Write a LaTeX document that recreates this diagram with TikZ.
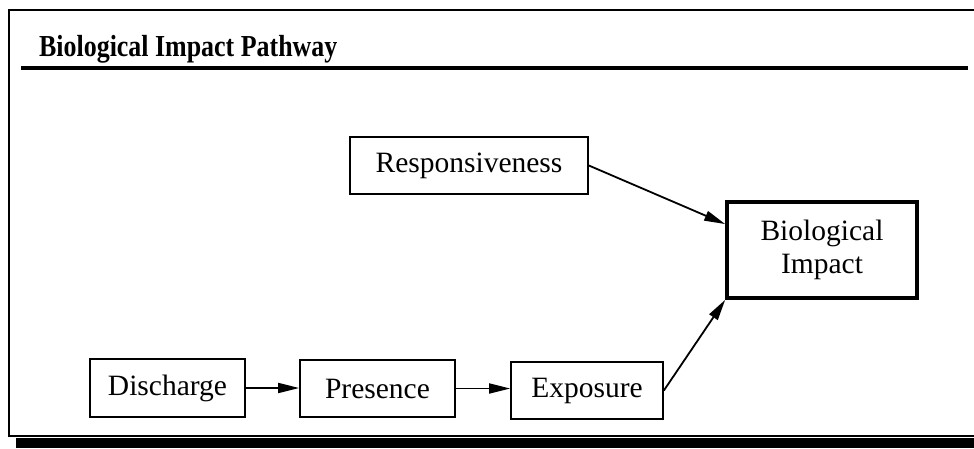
\documentclass[tikz,border=0pt]{standalone}
\usepackage{fontspec}
\setmainfont{Liberation Serif}
\usetikzlibrary{arrows.meta}
\begin{document}
\begin{tikzpicture}[x=1pt,y=-1pt,
  stage/.style={draw,line width=1.7pt,minimum height=57pt,inner sep=0pt,
    font=\fontsize{29.5}{33}\selectfont},
  goal/.style={stage,line width=3.6pt,align=center},
  flow/.style={line width=1.8pt,-{Triangle[length=21pt,width=10pt]}}]
  \useasboundingbox (0,0) rectangle (974,448);
  % frame with drop shadow along the bottom
  \draw[line width=1.8pt] (974,10) -- (9,10) -- (9,436) -- (974,436);
  \fill (16,438) rectangle (974,448);
  % heading and its rule
  \node[anchor=base west,inner sep=0pt,xscale=0.85,
    font=\fontsize{30.5}{32}\bfseries\selectfont] (title) at (39,56)
    {Biological Impact Pathway};
  \draw[line width=3.2pt] (21,68) -- (968,68);
  % stages
  \node[stage,minimum width=238pt] (resp) at (469,165.5) {Responsiveness};
  \node[goal,minimum width=190pt,minimum height=96pt] (bio) at (822,250)
    {Biological\\Impact};
  \node[stage,minimum width=155pt,minimum height=58pt] (dis) at (167.5,388) {Discharge};
  \node[stage,minimum width=155pt] (pres) at (377.5,388.5) {Presence};
  \node[stage,minimum width=152pt] (expo) at (587,390.5) {Exposure};
  % connectors
  \draw[flow] (dis.east) -- (pres.west |- dis.east);
  \draw[flow] (pres.east) -- (expo.west |- pres.east);
  \draw[flow] (resp.east) -- (bio.165);
  \draw[flow] (expo.east) -- (bio.south west);
\end{tikzpicture}
\end{document}
